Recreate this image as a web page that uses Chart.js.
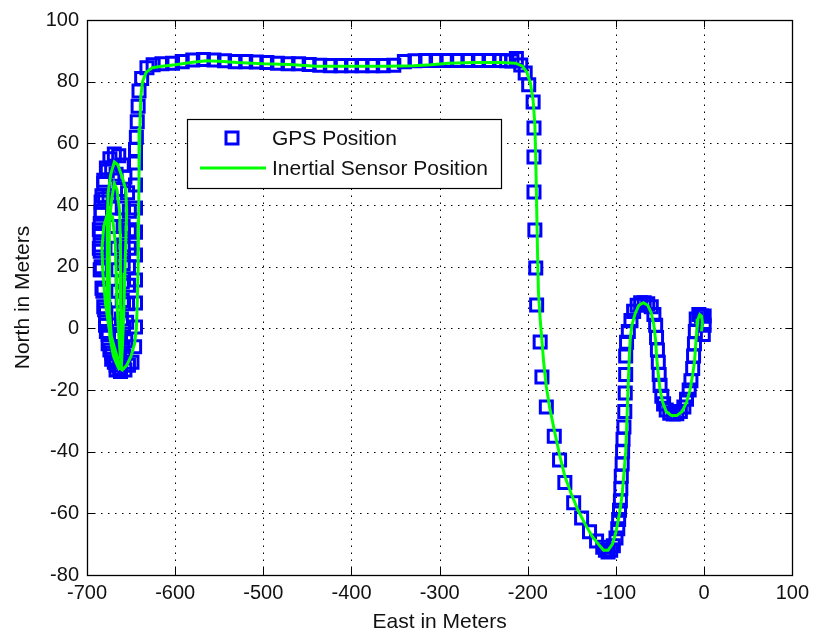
<!DOCTYPE html>
<html>
<head>
<meta charset="utf-8">
<script src="https://cdn.jsdelivr.net/npm/chart.js@4.4.1/dist/chart.umd.min.js"></script>
<style>
html,body{margin:0;padding:0;background:#fff;}
#wrap{width:815px;height:636px;}
</style>
</head>
<body>
<div id="wrap"><canvas id="c" width="815" height="636"></canvas></div>
<script>
// ---- data (East, North) in meters ----
const xTickValues = [-700,-600,-500,-400,-300,-200,-100,0,100];
const yTickValues = [-80,-60,-40,-20,0,20,40,60,80,100];
const seriesNames = ['GPS Position','Inertial Sensor Position'];

// GPS fixes: right section (hook, U, hump, V, climb)
const gpsRight = [
 [0,4],[0,1],[-1,-2],[-3,4],[-6,4.5],[-9,3],[-10,-1],[-11,-5],[-12,-9],[-13,-13],[-15,-17],[-17,-20],[-20,-23],[-23,-25.5],
 [-27,-27],[-31,-27.7],[-35,-27.8],[-39,-27.5],[-43,-26.5],[-46,-24.5],[-48,-22],[-50,-18.5],[-51,-15],[-52,-11],[-53,-7],
 [-54,-3],[-55,1],[-57,4.5],[-60,7],[-64,8],[-68,8.3],[-72,8.3],[-76,7.5],[-80,5.5],[-83,2.5],[-86,-1],[-88,-4.5],[-89,-9],
 [-89,-15],[-89.5,-21],[-90,-27],[-91,-32],[-92,-36],[-92.5,-40],[-93,-44],[-94,-48],[-94.5,-52],[-95,-56],[-96,-59],
 [-97,-62],[-98,-65],[-100,-68],[-103,-70.5],[-106,-72],[-109,-72.5],[-112,-72],[-115,-71],[-122,-69],[-130,-66],
 [-139,-61.5],[-148,-56.6],[-158,-50],[-164,-42.7],[-170,-35],[-179,-25.5],[-184,-15.8],[-186,-4.4],[-190,7.6],
 [-191,19.6],[-192,31.9],[-193,44.2],[-193,55.6],[-193,65],[-194,73.4],[-199,79],[-203,82.8],[-208,85.4],[-213,87.5]
];
// GPS fixes: top straight (east to west)
const gpsTop = [
 [-218,86.7],[-224,86.8],[-232,86.9],[-244,86.9],[-256,86.9],[-268,86.9],[-280,86.9],[-292,86.9],[-304,86.9],
 [-316,86.9],[-328,86.8],[-340,86.5],[-352,85.3],[-364,85.2],[-376,85.2],[-388,85.2],[-400,85.2],[-412,85.2],
 [-424,85.2],[-436,85.3],[-448,85.6],[-460,85.8],[-472,85.8],[-484,86],[-496,86.2],[-508,86.4],[-520,86.5],
 [-532,86.5],[-544,86.8],[-556,87],[-568,87.2],[-580,87],[-592,86.5],[-603,86],[-615,85.8],[-625,85.5],[-632,84.5]
];
// GPS fixes: west side going south
const gpsWest = [
 [-638,81],[-641,77],[-642,72],[-643,67],[-644,62],[-645,58],[-645,53.6],[-645,46.5],[-645,39],[-645,31.2],
 [-645,23.8],[-645,15.7],[-645,8.2],[-645,0.4],[-646,-6],[-649,-11]
];
// GPS fixes: laps on the western loop
const gpsLoops = [
 [-653,-12],[-657,-13.5],[-662,-14],[-667,-13.5],[-672,-10],[-676,-5],[-679,1],[-681,7],[-683,13],[-684,19],[-685,25],
 [-685,31],[-684,37],[-683,43],[-681,48],[-678,52],[-674,55],[-669,56.5],[-664,56],[-660,53],[-657,49],[-654,44],
 [-652,38],[-652,32],[-652,26],[-653,20],[-653,14],[-654,8],[-655,2],[-656,-4],[-658,-9],
 [-663,-13],[-669,-11],[-674,-7],[-678,-1],[-680,6],[-682,13],[-684,20],[-685,27],[-685,34],[-684,41],[-681,47],
 [-677,51],[-672,52],[-667,50],[-663,45],[-660,39],[-659,33],[-659,27],[-659,21],[-660,15],[-660,9],[-661,3],
 [-662,-3],[-663,-8],
 [-667,-12],[-672,-8],[-676,-2],[-679,5],[-682,12],[-685,19],[-686,26],[-686,32],[-684,38],[-680,42],[-675,43],
 [-671,39],[-668,33],[-666,26],[-665,19],[-665,12],[-665,5],[-665,-2],[-665,-8]
];

// Inertial sensor track
const insTrack = [
 [-3,-1],[-2,2],[-3,4],[-5,4.5],[-7,3],[-8,0],[-9,-3],[-10,-7],[-11,-11],[-13,-15],[-16,-20],[-20,-24],[-25,-27],
 [-31,-28.3],[-37,-28.3],[-43,-27],[-47,-24],[-50,-20],[-52,-15],[-54,-9],[-55,-4],[-57,1],[-60,5],[-64,7.5],
 [-69,8.3],[-74,7.5],[-78,5],[-82,1],[-84,-4],[-85,-10],[-86,-17],[-87,-25],[-88,-33],[-89,-40],[-91,-47],
 [-93,-54],[-96,-60],[-100,-66],[-104,-70],[-109,-72],[-114,-72],[-120,-70],[-127,-67.5],[-135,-63.5],[-143,-59],
 [-151,-53.5],[-158,-48],[-164,-41],[-170,-33],[-175,-26],[-179,-19],[-182,-11],[-184,-4],[-186,3],[-188,12],
 [-189,25],[-190,40],[-191,55],[-192,66],[-194,74],[-197,79.5],[-201,83],[-206,85],[-214,86],[-230,86.2],
 [-260,86.2],[-290,86],[-310,85.5],[-330,85.2],[-360,85],[-400,85],[-440,85],[-470,85.6],[-500,85.8],
 [-530,86.2],[-550,86.6],[-565,86.8],[-580,86.3],[-600,85.5],[-615,85],[-626,84.5],[-633,83],[-637,80],
 [-639,75],[-640,65],[-641,50],[-641.5,35],[-642,20],[-643,8],[-644,0],[-646,-5],[-650,-9],[-655,-12],[-660,-13.5],
 [-665,-12.5],[-670,-9],[-674,-3],[-676,5],[-677,15],[-677,25],[-677,35],[-676,44],[-673,50],[-669,54],[-665,53],
 [-660,49],[-656,45],[-655,38],[-656,28],[-657,18],[-658,8],[-659,0],[-660,-7],[-661,-12],
 [-664,-13],[-668,-10],[-672,-4],[-674,4],[-675,14],[-675,24],[-674,34],[-672,42],[-669,47],[-666,45],[-663,38],
 [-662,28],[-662,18],[-662,8],[-661,0],[-661,-8],[-661,-12],
 [-664,-11],[-669,-6],[-675,0],[-679,8],[-682,18],[-683,26],[-681,33],[-676,38],[-671,36],[-668,28],[-667,18],
 [-666,8],[-664,-2],[-662,-10]
];

const toXY = a => a.map(p => ({x:p[0], y:p[1]}));
const gpsData = toXY([].concat(gpsRight, gpsTop, gpsWest, gpsLoops));
const insData = toXY(insTrack);

const BLUE = '#0000ff', GREEN = '#00ff00';
const tickFont = {family:'"Liberation Sans", Arial, sans-serif', size:20};
const titleFont = {family:'"Liberation Sans", Arial, sans-serif', size:21};

const framePlugin = {
  id:'frame',
  beforeDraw(c){
    const ctx=c.ctx; ctx.save(); ctx.fillStyle='#fff'; ctx.fillRect(0,0,c.width,c.height); ctx.restore();
  },
  beforeDatasetsDraw(c){
    const {ctx, chartArea:a, scales:{x,y}} = c;
    ctx.save();
    ctx.strokeStyle='#000'; ctx.lineWidth=1; ctx.setLineDash([1.5,5.5]);
    x.ticks.forEach(t=>{
      if (t.value===x.min || t.value===x.max) return;
      const p=Math.round(x.getPixelForValue(t.value))+0.5;
      ctx.beginPath(); ctx.moveTo(p,a.bottom); ctx.lineTo(p,a.top); ctx.stroke();
    });
    y.ticks.forEach(t=>{
      if (t.value===y.min || t.value===y.max) return;
      const p=Math.round(y.getPixelForValue(t.value))+0.5;
      ctx.beginPath(); ctx.moveTo(a.left,p); ctx.lineTo(a.right,p); ctx.stroke();
    });
    ctx.restore();
  },
  afterDraw(c){
    const {ctx, chartArea:a, scales:{x,y}} = c;
    ctx.save();
    ctx.strokeStyle='#000'; ctx.lineWidth=1.3; ctx.setLineDash([]);
    ctx.strokeRect(Math.round(a.left)+0.5, Math.round(a.top)+0.5, Math.round(a.right-a.left), Math.round(a.bottom-a.top));
    const tl=7;
    ctx.lineWidth=1;
    x.ticks.forEach(t=>{
      const p=Math.round(x.getPixelForValue(t.value))+0.5;
      ctx.beginPath(); ctx.moveTo(p,a.bottom); ctx.lineTo(p,a.bottom-tl);
      ctx.moveTo(p,a.top); ctx.lineTo(p,a.top+tl); ctx.stroke();
    });
    y.ticks.forEach(t=>{
      const p=Math.round(y.getPixelForValue(t.value))+0.5;
      ctx.beginPath(); ctx.moveTo(a.left,p); ctx.lineTo(a.left+tl,p);
      ctx.moveTo(a.right,p); ctx.lineTo(a.right-tl,p); ctx.stroke();
    });
    // legend
    const L=187, T=119, W=314, H=69;
    ctx.fillStyle='#fff'; ctx.fillRect(L,T,W,H);
    ctx.lineWidth=1.2; ctx.strokeStyle='#000';
    ctx.strokeRect(L+0.5,T+0.5,W,H);
    const ds = c.data.datasets;
    ctx.strokeStyle=ds[0].pointBorderColor; ctx.lineWidth=3;
    ctx.strokeRect(226,132,12,12);
    ctx.strokeStyle=ds[1].borderColor; ctx.lineWidth=3;
    ctx.beginPath(); ctx.moveTo(200,168); ctx.lineTo(266,168); ctx.stroke();
    ctx.fillStyle='#111'; ctx.font='21px "Liberation Sans", Arial, sans-serif';
    ctx.textBaseline='middle'; ctx.textAlign='left';
    ctx.fillText(ds[0].label, 272, 139);
    ctx.fillText(ds[1].label, 272, 169);
    ctx.restore();
  }
};

new Chart(document.getElementById('c'), {
  type:'scatter',
  data:{datasets:[
    {label:seriesNames[0], data:gpsData, showLine:false, pointStyle:'rect', pointRadius:8.5,
     pointBorderWidth:3, pointBorderColor:BLUE, pointBackgroundColor:'rgba(0,0,0,0)', borderColor:BLUE, order:1},
    {label:seriesNames[1], data:insData, showLine:true, borderColor:GREEN, borderWidth:3, pointRadius:0,
     tension:0, fill:false, order:0}
  ]},
  options:{
    responsive:false, animation:false, devicePixelRatio:1,
    layout:{padding:{left:0,right:18,top:20,bottom:0}},
    plugins:{legend:{display:false}, tooltip:{enabled:false}},
    scales:{
      x:{type:'linear', min:-700, max:100,
         afterBuildTicks(s){ s.ticks = xTickValues.map(v=>({value:v})); },
         ticks:{autoSkip:false, maxRotation:0, padding:6, font:tickFont, color:'#111'},
         grid:{display:false, drawTicks:false}, border:{display:false},
         title:{display:true, text:'East in Meters', font:titleFont, color:'#111', padding:{top:0,bottom:1}},
         afterFit(s){ s.height=61; }},
      y:{type:'linear', min:-80, max:100,
         afterBuildTicks(s){ s.ticks = yTickValues.map(v=>({value:v})); },
         ticks:{autoSkip:false, padding:8, font:tickFont, color:'#111'},
         grid:{display:false, drawTicks:false}, border:{display:false},
         title:{display:true, text:'North in Meters', font:titleFont, color:'#111', padding:{top:11,bottom:0}},
         afterFit(s){ s.width=87; }}
    }
  },
  plugins:[framePlugin]
});
</script>
</body>
</html>
